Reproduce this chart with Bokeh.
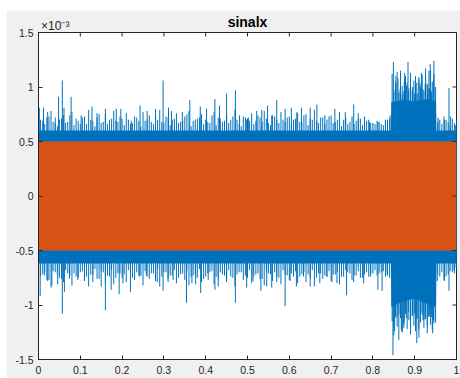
from bokeh.plotting import figure
from bokeh.models import LinearAxis, Range1d, FixedTicker, CustomJSTickFormatter
from bokeh.embed import file_html
from bokeh.resources import INLINE

# ---- data (signal amplitudes in units of 1e-3) ----
title_text = "sinalx"
exp_text = "×10⁻³"
exp_pos = [0.04]
x_ticks = [0, 0.1, 0.2, 0.3, 0.4, 0.5, 0.6, 0.7, 0.8, 0.9, 1]
x_tick_labels = ["0", "0.1", "0.2", "0.3", "0.4", "0.5", "0.6", "0.7", "0.8", "0.9", "1"]
y_ticks = [-1.5, -1, -0.5, 0, 0.5, 1, 1.5]
y_tick_labels = ["-1.5", "-1", "-0.5", "0", "0.5", "1", "1.5"]

# orange series: sinusoid amplitude (fills a band)
orange_x = [0, 1]
orange_amp = [0.5, 0.5]

# blue series: dense core envelope
core_x = [0, 0.843, 0.844, 0.87, 0.90, 0.93, 0.951, 0.952, 1]
core_upper = [0.60, 0.60, 0.86, 0.88, 0.87, 0.89, 0.87, 0.60, 0.60]
core_lower = [-0.62, -0.62, -1.02, -0.97, -0.94, -0.99, -1.02, -0.62, -0.62]

# blue series: medium peaks (first set, x = 0.005 + 0.01*i)
mid_x = [round(0.005 + 0.01 * i, 3) for i in range(100)]
mid_upper = [
    0.70, 0.66, 0.73, 0.68, 0.64, 0.71, 0.67, 0.74, 0.65, 0.69,
    0.72, 0.66, 0.70, 0.64, 0.75, 0.68, 0.66, 0.71, 0.69, 0.73,
    0.65, 0.70, 0.67, 0.72, 0.64, 0.69, 0.74, 0.66, 0.70, 0.68,
    0.73, 0.65, 0.71, 0.67, 0.69, 0.75, 0.64, 0.70, 0.72, 0.66,
    0.68, 0.74, 0.65, 0.71, 0.69, 0.67, 0.73, 0.70, 0.64, 0.72,
    0.69, 0.66, 0.74, 0.68, 0.71, 0.65, 0.73, 0.67, 0.70, 0.72,
    0.66, 0.71, 0.68, 0.74, 0.65, 0.70, 0.69, 0.72, 0.66, 0.73,
    0.67, 0.70, 0.64, 0.72, 0.68, 0.66, 0.71, 0.65, 0.69, 0.67,
    0.66, 0.68, 0.65, 0.70, 0.67, 1.02, 0.98, 1.05, 0.96, 1.00,
    1.04, 0.97, 1.03, 0.99, 1.06, 0.68, 0.66, 0.70, 0.65, 0.67,
]
mid_lower = [
    -0.74, -0.70, -0.77, -0.69, -0.72, -0.76, -0.68, -0.73, -0.71, -0.75,
    -0.69, -0.74, -0.72, -0.67, -0.76, -0.70, -0.73, -0.68, -0.75, -0.71,
    -0.72, -0.68, -0.75, -0.70, -0.73, -0.69, -0.76, -0.71, -0.67, -0.74,
    -0.70, -0.73, -0.68, -0.75, -0.71, -0.69, -0.74, -0.72, -0.67, -0.76,
    -0.71, -0.69, -0.74, -0.70, -0.73, -0.68, -0.75, -0.72, -0.70, -0.73,
    -0.68, -0.74, -0.71, -0.76, -0.69, -0.72, -0.70, -0.75, -0.68, -0.73,
    -0.71, -0.69, -0.74, -0.70, -0.72, -0.68, -0.75, -0.71, -0.73, -0.69,
    -0.72, -0.70, -0.74, -0.68, -0.71, -0.73, -0.69, -0.75, -0.70, -0.72,
    -0.68, -0.71, -0.69, -0.73, -0.70, -1.12, -1.08, -1.15, -1.06, -1.10,
    -1.13, -1.07, -1.11, -1.09, -1.14, -0.72, -0.70, -0.74, -0.69, -0.71,
]

# blue series: medium peaks (second set, x = 0.01*i)
mid2_x = [round(0.01 * i, 3) for i in range(101)]
mid2_upper = [
    0.76, 0.69, 0.72, 0.78, 0.67, 0.70, 0.74, 0.68, 0.77, 0.71,
    0.66, 0.73, 0.79, 0.69, 0.72, 0.67, 0.75, 0.70, 0.78, 0.68,
    0.71, 0.76, 0.66, 0.73, 0.69, 0.77, 0.70, 0.68, 0.74, 0.79,
    0.67, 0.72, 0.70, 0.76, 0.68, 0.73, 0.78, 0.69, 0.71, 0.75,
    0.70, 0.67, 0.77, 0.72, 0.68, 0.74, 0.70, 0.79, 0.66, 0.73,
    0.71, 0.76, 0.69, 0.72, 0.78, 0.67, 0.74, 0.70, 0.77, 0.68,
    0.73, 0.70, 0.76, 0.68, 0.75, 0.71, 0.79, 0.67, 0.72, 0.70,
    0.74, 0.68, 0.77, 0.70, 0.66, 0.73, 0.69, 0.71, 0.68, 0.70,
    0.67, 0.69, 0.66, 0.70, 0.71, 0.95, 1.08, 0.93, 1.01, 1.07,
    0.94, 1.09, 0.98, 1.02, 0.96, 1.00, 0.70, 0.73, 0.68, 0.71,
    0.69,
]
mid2_lower = [
    -0.80, -0.72, -0.77, -0.84, -0.70, -0.75, -0.79, -0.71, -0.82, -0.74,
    -0.70, -0.78, -0.83, -0.72, -0.76, -0.69, -0.80, -0.74, -0.81, -0.71,
    -0.75, -0.79, -0.70, -0.77, -0.73, -0.82, -0.74, -0.71, -0.78, -0.83,
    -0.70, -0.76, -0.73, -0.80, -0.72, -0.77, -0.82, -0.73, -0.75, -0.79,
    -0.74, -0.70, -0.81, -0.76, -0.72, -0.78, -0.74, -0.83, -0.70, -0.77,
    -0.75, -0.80, -0.72, -0.76, -0.82, -0.71, -0.78, -0.74, -0.81, -0.72,
    -0.77, -0.74, -0.80, -0.72, -0.79, -0.75, -0.83, -0.71, -0.76, -0.74,
    -0.78, -0.72, -0.81, -0.74, -0.70, -0.77, -0.73, -0.75, -0.72, -0.74,
    -0.71, -0.73, -0.70, -0.74, -0.75, -1.18, -1.10, -1.25, -1.12, -1.20,
    -1.08, -1.22, -1.14, -1.19, -1.11, -1.16, -0.74, -0.77, -0.72, -0.70,
    -0.68,
]

# blue series: extra peaks inside the high-amplitude burst
burst_x = [0.846, 0.850, 0.854, 0.858, 0.862, 0.866, 0.870, 0.874, 0.878, 0.882,
           0.886, 0.890, 0.894, 0.898, 0.902, 0.906, 0.910, 0.914, 0.918, 0.922,
           0.926, 0.930, 0.934, 0.938, 0.942, 0.946]
burst_up = [1.12, 0.98, 1.05, 1.14, 0.95, 1.08, 1.01, 0.96, 1.10, 1.04,
            0.99, 1.13, 0.97, 1.06, 1.02, 0.94, 1.07, 1.00, 1.11, 0.96,
            1.09, 1.03, 0.98, 1.15, 1.05, 1.12]
burst_dn = [-1.15, -1.28, -1.10, -1.20, -1.32, -1.12, -1.25, -1.18, -1.08, -1.22,
            -1.14, -1.27, -1.10, -1.19, -1.24, -1.12, -1.30, -1.16, -1.09, -1.21,
            -1.13, -1.26, -1.11, -1.18, -1.23, -1.17]

# blue series: tall positive peaks
peak_up_x = [0.002, 0.012, 0.022, 0.040, 0.048, 0.057, 0.061, 0.078, 0.102, 0.128,
             0.140, 0.160, 0.186, 0.197, 0.222, 0.243, 0.260, 0.280, 0.298, 0.311,
             0.318, 0.344, 0.362, 0.387, 0.402, 0.422, 0.433, 0.450, 0.471, 0.481,
             0.498, 0.502, 0.522, 0.534, 0.548, 0.558, 0.570, 0.590, 0.605, 0.618,
             0.629, 0.650, 0.666, 0.685, 0.709, 0.734, 0.754, 0.765, 0.780, 0.792,
             0.812, 0.830, 0.841, 0.849, 0.855, 0.866, 0.876, 0.884, 0.890, 0.902,
             0.913, 0.916, 0.926, 0.934, 0.937, 0.946, 0.956, 0.971, 0.982, 0.986,
             0.998]
peak_up = [0.81, 0.81, 0.77, 0.72, 0.91, 1.06, 0.81, 0.91, 0.74, 0.82,
           0.76, 0.80, 0.80, 0.80, 0.69, 0.83, 0.78, 0.80, 1.06, 0.81,
           0.78, 0.77, 0.88, 0.82, 0.80, 0.89, 0.83, 0.94, 0.97, 0.74,
           0.70, 0.72, 0.78, 0.79, 0.83, 0.74, 0.88, 0.80, 0.81, 0.77,
           0.81, 0.81, 0.84, 0.74, 0.80, 0.77, 0.84, 0.76, 0.73, 0.68,
           0.68, 0.69, 0.74, 1.23, 1.10, 1.15, 1.13, 1.23, 1.09, 1.10,
           1.03, 1.13, 1.17, 1.15, 1.21, 1.24, 0.72, 0.70, 0.99, 0.73,
           0.65]

# blue series: tall negative peaks
peak_dn_x = [0.004, 0.014, 0.022, 0.032, 0.046, 0.057, 0.062, 0.074, 0.094, 0.110,
             0.130, 0.150, 0.160, 0.174, 0.193, 0.202, 0.220, 0.242, 0.258, 0.284,
             0.298, 0.310, 0.322, 0.354, 0.367, 0.376, 0.388, 0.406, 0.422, 0.430,
             0.450, 0.471, 0.498, 0.513, 0.532, 0.546, 0.558, 0.570, 0.590, 0.602,
             0.617, 0.634, 0.650, 0.673, 0.690, 0.702, 0.714, 0.737, 0.754, 0.778,
             0.794, 0.812, 0.822, 0.834, 0.848, 0.852, 0.868, 0.874, 0.890, 0.905,
             0.922, 0.934, 0.943, 0.954, 0.971, 0.982, 0.994, 0.999]
peak_dn = [-0.92, -0.73, -0.78, -0.82, -0.81, -1.08, -0.88, -0.76, -0.77, -0.76,
           -0.79, -0.83, -1.05, -0.86, -0.90, -0.80, -0.88, -0.74, -0.73, -0.79,
           -0.87, -0.79, -0.77, -0.98, -0.80, -0.81, -0.89, -0.77, -0.86, -0.83,
           -0.79, -0.98, -0.84, -0.78, -0.87, -0.83, -0.84, -0.79, -1.01, -0.78,
           -0.83, -0.74, -0.83, -0.80, -0.74, -0.79, -0.80, -0.91, -0.79, -0.80,
           -0.74, -0.86, -0.87, -0.72, -1.46, -1.24, -1.23, -1.21, -1.18, -1.35,
           -1.14, -1.11, -1.26, -0.78, -0.78, -0.87, -0.68, -0.66]

BLUE = "#0072BD"
ORANGE = "#D95319"
AX = "#262626"
FONT = "Liberation Sans"

W, H = 454, 368
BL, BR, BT, BB = 32, 4, 21, 19
FW, FH = W - BL - BR, H - BT - BB   # frame size in px
TICK = 4                            # tick length in px

p = figure(width=W, height=H, output_backend="svg", toolbar_location=None,
           x_range=Range1d(0, 1), y_range=Range1d(-1.5, 1.5),
           min_border_left=BL, min_border_right=BR, min_border_top=BT, min_border_bottom=BB,
           background_fill_color="white", border_fill_color="#f0f0f0",
           outline_line_color=AX, outline_line_width=1,
           x_axis_location=None, y_axis_location=None)
p.margin = (10, 0, 0, 6)
p.grid.visible = False

# blue signal
p.varea(x=core_x, y1=core_lower, y2=core_upper, fill_color=BLUE)
for xs, ys in ((mid_x, mid_upper), (mid_x, mid_lower), (mid2_x, mid2_upper),
               (mid2_x, mid2_lower), (burst_x, burst_up), (burst_x, burst_dn),
               (peak_up_x, peak_up), (peak_dn_x, peak_dn)):
    p.segment(x0=xs, y0=[0] * len(xs), x1=xs, y1=ys, line_color=BLUE, line_width=1)

# orange signal
p.varea(x=orange_x, y1=[-a for a in orange_amp], y2=orange_amp, fill_color=ORANGE)

# inward ticks on the top and right edges of the box
ty = TICK * 3.0 / FH
tx = TICK * 1.0 / FW
p.segment(x0=x_ticks, y0=[1.5] * len(x_ticks), x1=x_ticks, y1=[1.5 - ty] * len(x_ticks),
          line_color=AX, line_width=1)
p.segment(x0=[1] * len(y_ticks), y0=y_ticks, x1=[1 - tx] * len(y_ticks), y1=y_ticks,
          line_color=AX, line_width=1)

def fmt(tick_values, tick_texts):
    return CustomJSTickFormatter(args=dict(tv=tick_values, tl=tick_texts), code="""
        let best = 0, d = 1e9;
        for (let i = 0; i < tv.length; i++) {
            const dd = Math.abs(tv[i] - tick);
            if (dd < d) { d = dd; best = i; }
        }
        return tl[best];
    """)

def style(ax):
    ax.axis_line_color = AX
    ax.axis_line_width = 1
    ax.major_tick_line_color = AX
    ax.major_tick_in = TICK
    ax.major_tick_out = 0
    ax.minor_tick_line_color = None
    ax.major_label_text_color = AX
    ax.major_label_text_font = FONT
    ax.major_label_text_font_size = "10.5px"
    ax.major_label_standoff = 5

xb = LinearAxis(ticker=FixedTicker(ticks=x_ticks), formatter=fmt(x_ticks, x_tick_labels))
yl = LinearAxis(ticker=FixedTicker(ticks=y_ticks), formatter=fmt(y_ticks, y_tick_labels))
style(xb); style(yl)
xb.major_label_standoff = 6
p.add_layout(xb, "below")
p.add_layout(yl, "left")

# top texts: exponent as a tick label, title as the axis label on the same line
xa = LinearAxis(ticker=FixedTicker(ticks=exp_pos), formatter=fmt(exp_pos, [exp_text]),
                axis_label=title_text)
xa.axis_line_color = None
xa.major_tick_line_color = None
xa.minor_tick_line_color = None
xa.major_tick_out = 0
xa.major_tick_in = 0
xa.minor_tick_out = 0
xa.minor_tick_in = 0
xa.major_label_text_color = AX
xa.major_label_text_font = FONT
xa.major_label_text_font_size = "12px"
xa.major_label_standoff = 0
xa.axis_label_text_font = FONT
xa.axis_label_text_font_style = "bold"
xa.axis_label_text_font_size = "14px"
xa.axis_label_text_color = "#000000"
xa.axis_label_standoff = -14
p.add_layout(xa, "above")

open("out.html", "w").write(file_html(p, INLINE))
